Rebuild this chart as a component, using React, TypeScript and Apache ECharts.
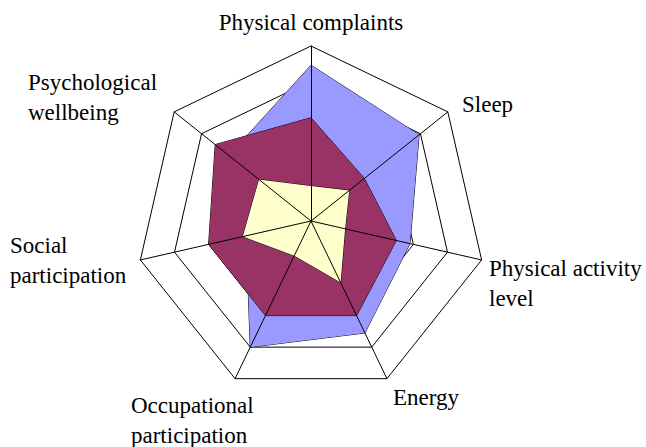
import React, { useEffect, useRef } from "react";
import * as echarts from "echarts";

// Indicators in counter-clockwise order starting at the top (ECharts radar order)
const categories = [
  "Physical complaints",
  "Psychological wellbeing",
  "Social participation",
  "Occupational participation",
  "Energy",
  "Physical activity level",
  "Sleep",
];

// Series values (0-100), same order as categories
const seriesBlue = [89, 60, 38, 80, 71, 58, 79];
const seriesPurple = [59, 70, 60, 60, 60, 50, 39];
const seriesYellow = [20, 38, 40, 22, 39, 20, 28];

const axisMax = 100;
const ringCount = 5;

// Label texts as drawn (with line breaks)
const labelTexts = [
  "Physical complaints",
  "Psychological\nwellbeing",
  "Social\nparticipation",
  "Occupational\nparticipation",
  "Energy",
  "Physical activity\nlevel",
  "Sleep",
];

const labelPos = [
  { x: 311, y: 7, align: "center" },
  { x: 28, y: 67, align: "left" },
  { x: 10, y: 230, align: "left" },
  { x: 131, y: 390, align: "left" },
  { x: 393, y: 382, align: "left" },
  { x: 489, y: 253, align: "left" },
  { x: 462, y: 89, align: "left" },
];

export default function App() {
  const ref = useRef<HTMLDivElement>(null);

  useEffect(() => {
    if (!ref.current) return;
    const chart = echarts.init(ref.current, null, { renderer: "svg" });
    const indicator = categories.map((name) => ({ name, max: axisMax, min: 0 }));
    const center = [311, 221];
    const radius = 175;
    const mk = (data: number[], color: string) => ({
      type: "radar",
      radarIndex: 0,
      symbol: "none",
      silent: true,
      lineStyle: { color: "#000", width: 1 },
      areaStyle: { color, opacity: 1 },
      data: [{ value: data }],
    });
    chart.setOption({
      animation: false,
      backgroundColor: "#ffffff",
      radar: [
        {
          indicator,
          center,
          radius,
          shape: "polygon",
          splitNumber: ringCount,
          startAngle: 90,
          axisName: { show: false },
          splitLine: { show: true, lineStyle: { color: "#000", width: 1 } },
          splitArea: { show: false },
          axisLine: { show: false },
          axisTick: { show: false },
          axisLabel: { show: false },
          z: 0,
        },
        {
          indicator,
          center,
          radius,
          shape: "polygon",
          splitNumber: ringCount,
          startAngle: 90,
          axisName: { show: false },
          splitLine: { show: false },
          splitArea: { show: false },
          axisLine: { show: true, lineStyle: { color: "#000", width: 1 } },
          axisTick: { show: false },
          axisLabel: { show: false },
          z: 5,
        },
      ],
      series: [
        mk(seriesBlue, "#9999ff"),
        mk(seriesPurple, "#993366"),
        mk(seriesYellow, "#ffffcc"),
      ],
      graphic: labelTexts.map((t, i) => ({
        type: "text",
        x: labelPos[i].x,
        y: labelPos[i].y,
        z: 10,
        style: {
          text: t,
          fill: "#000",
          font: '23px "Liberation Serif"',
          fontSize: 23,
          fontFamily: "Liberation Serif",
          lineHeight: 30,
          align: labelPos[i].align,
          verticalAlign: "top",
        },
      })),
    });
    return () => chart.dispose();
  }, []);

  return (
    <div
      ref={ref}
      style={{ position: "fixed", left: 0, top: 0, width: 646, height: 447, background: "#fff" }}
    />
  );
}
